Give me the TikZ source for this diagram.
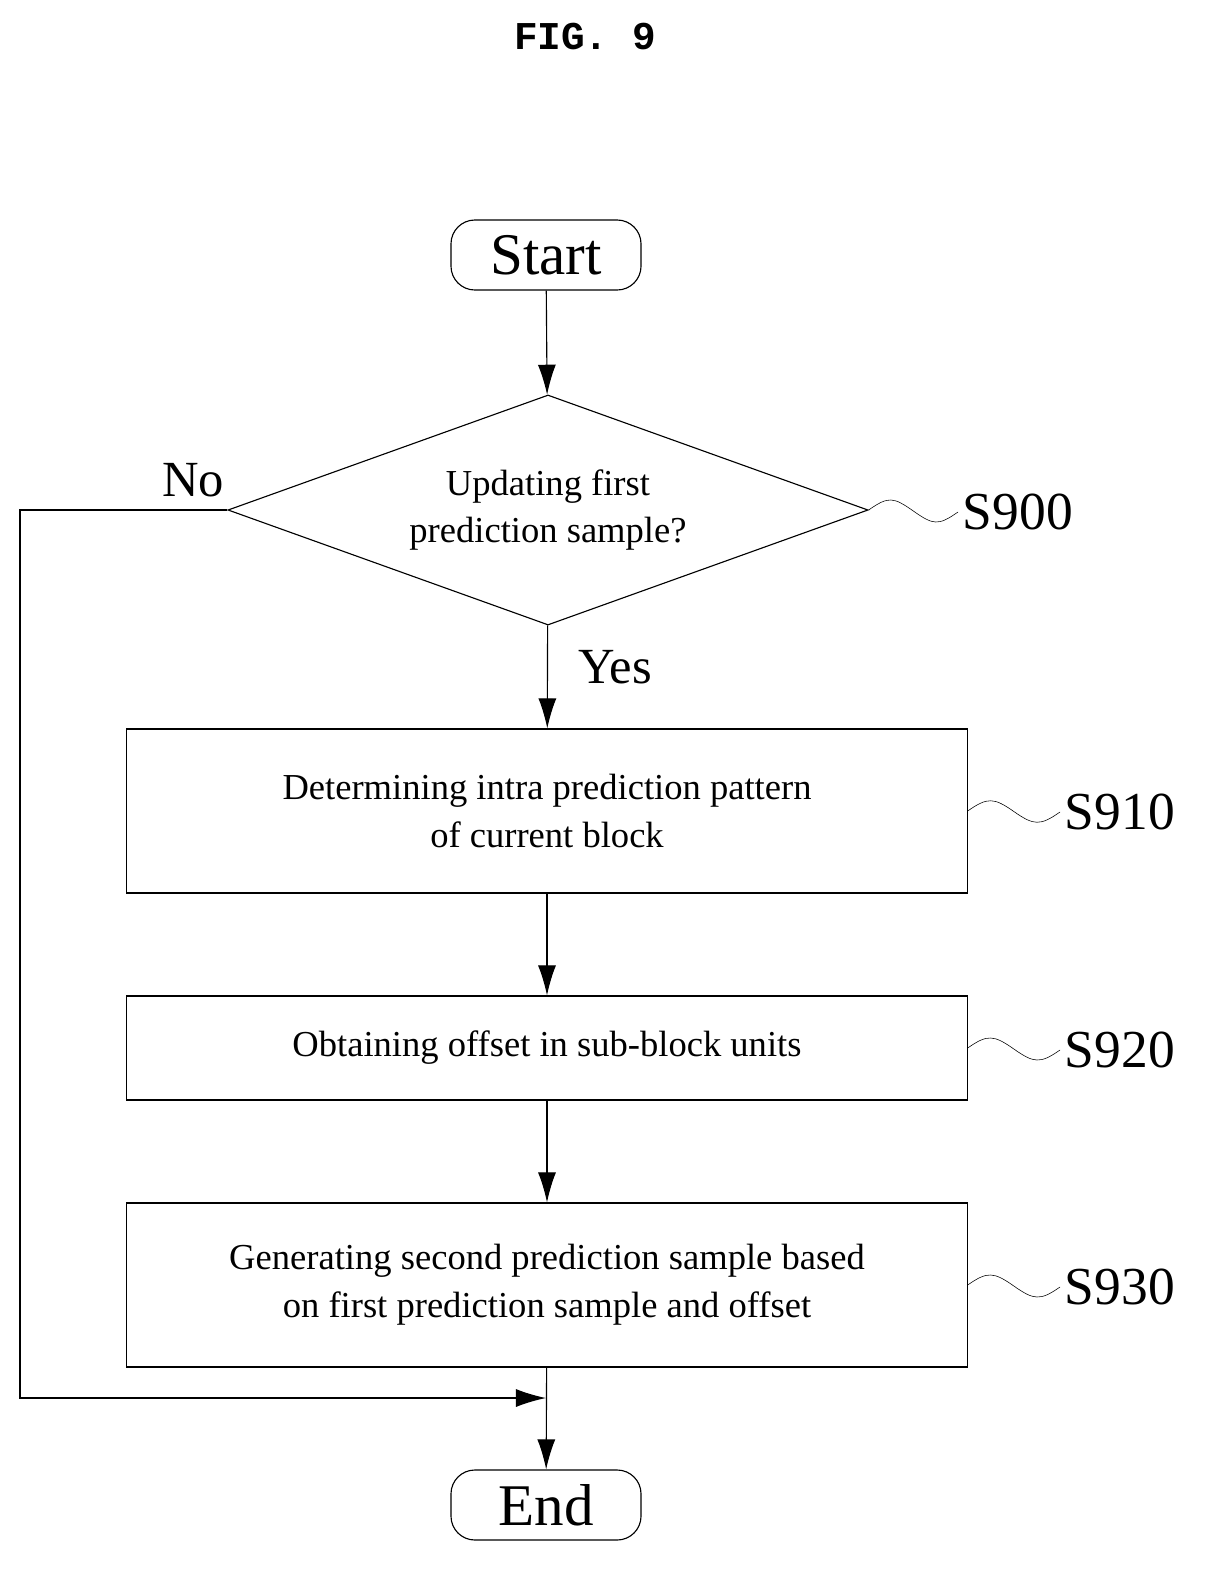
\documentclass[tikz,border=0pt]{standalone}
\usepackage{fontspec}
\setmainfont{Liberation Serif}
\setmonofont{Liberation Mono}
\usetikzlibrary{shapes.geometric, arrows, arrows.meta, calc}
\tikzstyle{term} = [rectangle, rounded corners=17pt, minimum width=4.75cm, minimum height=1.75cm, draw, thick, font=\fontsize{42}{46}\selectfont]
\tikzstyle{process} = [rectangle, minimum width=21cm, draw, thick, align=center, font=\fontsize{26}{34}\selectfont]
\tikzstyle{decision} = [diamond, aspect=2.78, minimum width=16cm, minimum height=5.75cm, inner sep=0, draw, thick, align=center, font=\fontsize{26}{34}\selectfont]
\tikzstyle{arrow} = [thick,-{Latex[length=0.75cm,width=0.45cm]}]
\tikzstyle{steplabel} = [anchor=west, font=\fontsize{38}{40}\selectfont]
\begin{document}
\begin{tikzpicture}[x=0.025cm,y=-0.025cm]
\useasboundingbox (0,0) rectangle (1204,1579);
\node[font=\ttfamily\bfseries\fontsize{28}{30}\selectfont] (title) at (585,37) {FIG. 9};

\node[term] (start) at (546,255) {Start};
\node[decision] (dec) at (548,510) {Updating first\\prediction sample?};
\node[process, minimum height=4.1cm] (s910) at (547,811) {Determining intra prediction pattern\\of current block};
\node[process, minimum height=2.6cm] (s920) at (547,1048) {Obtaining offset in sub-block units};
\node[process, minimum height=4.1cm] (s930) at (547,1285) {Generating second prediction sample based\\on first prediction sample and offset};
\node[term] (end) at (546,1505) {End};

\node[font=\fontsize{36}{40}\selectfont] (no) at (193,480) {No};
\node[font=\fontsize{36}{40}\selectfont] (yes) at (615,667) {Yes};

% step labels with wavy leaders
\node[steplabel] (l900) at (958,512) {S900};
\node[steplabel] (l910) at (1060,812) {S910};
\node[steplabel] (l920) at (1060,1050) {S920};
\node[steplabel] (l930) at (1060,1287) {S930};
\foreach \b/\l in {dec.east/l900, s910.east/l910, s920.east/l920, s930.east/l930}
	\draw[thin] (\b) .. controls +(0.5cm,0.35cm) and +(-0.5cm,0.35cm) .. ($(\b)!0.5!(\l.west)$) .. controls +(0.5cm,-0.35cm) and +(-0.5cm,-0.35cm) .. (\l.west);

% flow
\draw[arrow] (start) -- (dec);
\draw[arrow] (dec) -- (s910);
\draw[arrow] (s910) -- (s920);
\draw[arrow] (s920) -- (s930);
\draw[arrow] (s930) -- (end);
\coordinate (c1) at (20,510);
\coordinate (c2) at (20,1398);
\coordinate (c3) at (546,1398);
\draw[arrow] (dec.west) -- (c1) -- (c2) -- (c3);
\end{tikzpicture}
\end{document}
